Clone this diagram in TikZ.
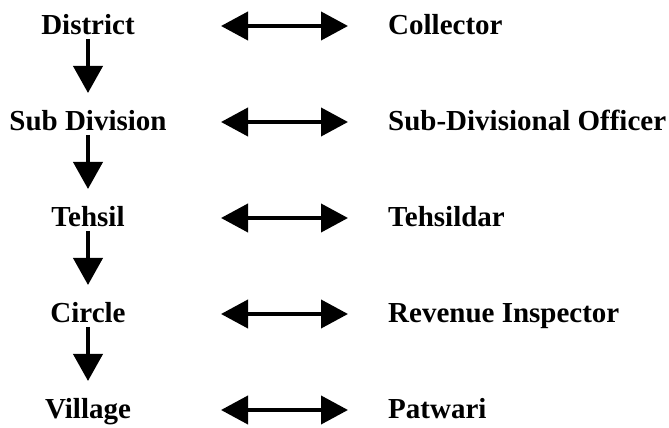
\documentclass[tikz,border=0pt]{standalone}
\usepackage{fontspec}
\setmainfont{Liberation Serif}
\usetikzlibrary{arrows.meta}

\begin{document}
\begin{tikzpicture}[x=1pt,y=1pt,
	level/.style={font=\fontsize{29}{34}\selectfont\bfseries, inner sep=0pt, anchor=base},
	post/.style={font=\fontsize{29}{34}\selectfont\bfseries, inner sep=0pt, anchor=base west},
	down/.style={line width=4pt, -{Triangle[width=29pt,length=27pt]}},
	both/.style={line width=4pt, {Triangle[width=28pt,length=27pt]}-{Triangle[width=28pt,length=27pt]}}]
	\useasboundingbox (0,0) rectangle (669,428);
	% levels of administration
	\node[level] (dist) at (88,393) {District};
	\node[level] (sub)  at (88,297) {Sub Division};
	\node[level] (teh)  at (88,201) {Tehsil};
	\node[level] (circ) at (88,105) {Circle};
	\node[level] (vill) at (88,9)   {Village};
	% officers
	\node[post] (coll) at (388,393) {Collector};
	\node[post] (sdo)  at (388,297) {Sub-Divisional Officer};
	\node[post] (tdar) at (388,201) {Tehsildar};
	\node[post] (rins) at (388,105) {Revenue Inspector};
	\node[post] (patw) at (388,9)   {Patwari};
	% downward arrows
	\draw[down] ([yshift=-4pt]dist.base) -- ([yshift=38pt]sub.base);
	\draw[down] ([yshift=-4pt]sub.base)  -- ([yshift=38pt]teh.base);
	\draw[down] ([yshift=-4pt]teh.base)  -- ([yshift=38pt]circ.base);
	\draw[down] ([yshift=-4pt]circ.base) -- ([yshift=38pt]vill.base);
	% double arrows
	\foreach \row/\yy in {1/402,2/306,3/210,4/114,5/18}{
		\coordinate (l\row) at (221,\yy);
		\coordinate (r\row) at (348,\yy);
		\draw[both] (l\row) -- (r\row);
	}
\end{tikzpicture}
\end{document}
